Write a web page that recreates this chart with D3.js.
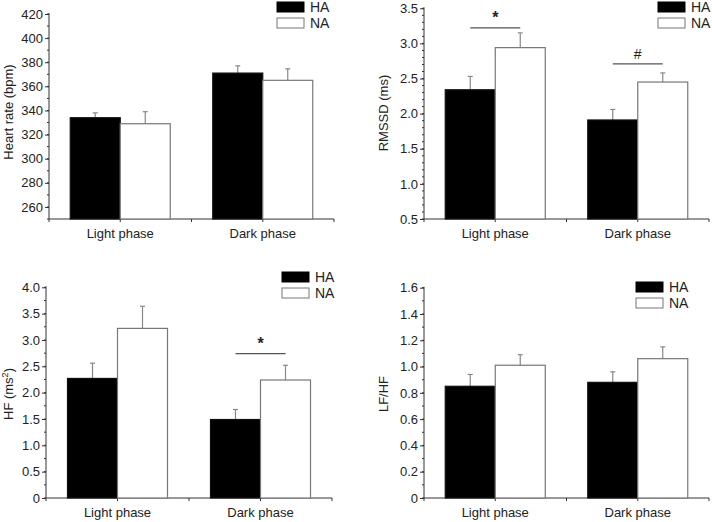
<!DOCTYPE html>
<html><head><meta charset="utf-8">
<script src="https://cdn.jsdelivr.net/npm/d3@7"></script>
<style>body{margin:0;background:#fff}svg{display:block}text{font-family:"Liberation Sans",Arial,sans-serif}</style>
</head><body>
<svg id="c" width="712" height="522"></svg>
<script>
const categories = ["Light phase", "Dark phase"];
const groups = ["HA", "NA"];

const hrHA = [334, 371], hrHAse = [4, 6];
const hrNA = [329, 365], hrNAse = [10, 9.5];
const rmssdHA = [2.34, 1.91], rmssdHAse = [0.19, 0.15];
const rmssdNA = [2.94, 2.45], rmssdNAse = [0.21, 0.13];
const hfHA = [2.27, 1.49], hfHAse = [0.29, 0.19];
const hfNA = [3.22, 2.24], hfNAse = [0.42, 0.28];
const lfhfHA = [0.85, 0.88], lfhfHAse = [0.09, 0.08];
const lfhfNA = [1.01, 1.06], lfhfNAse = [0.08, 0.09];

const hrTicks = [260, 280, 300, 320, 340, 360, 380, 400, 420];
const rmssdTicks = [0.5, 1.0, 1.5, 2.0, 2.5, 3.0, 3.5];
const hfTicks = [0, 0.5, 1.0, 1.5, 2.0, 2.5, 3.0, 3.5, 4.0];
const lfhfTicks = [0, 0.2, 0.4, 0.6, 0.8, 1.0, 1.2, 1.4, 1.6];

const svg = d3.select("#c");
const axisCol = "#333", txtCol = "#222", errCol = "#888";

function panel(cfg) {
  const g = svg.append("g");
  const x = d3.scaleBand().domain(categories).range([cfg.x0, cfg.x1]);
  const y = d3.scaleLinear().domain(cfg.domain).range([cfg.yb, cfg.yt]);
  const barW = 50;
  const xs = d3.scaleBand().domain(groups).range([0, 2 * barW]);

  // minor ticks
  const minor = d3.range(cfg.domain[0], cfg.domain[1] + 1e-9, cfg.minor)
    .map(v => +v.toFixed(4)).filter(v => v >= cfg.ticks[0] - 1e-9 || true);
  g.selectAll(".mn").data(minor).join("line")
    .attr("x1", cfg.x0 - 2).attr("x2", cfg.x0)
    .attr("y1", d => y(d)).attr("y2", d => y(d))
    .attr("stroke", axisCol).attr("stroke-width", 1);

  const ya = d3.axisLeft(y).tickValues(cfg.ticks).tickSize(4).tickPadding(2)
    .tickFormat(cfg.fmt);
  const yg = g.append("g").attr("transform", `translate(${cfg.x0},0)`).call(ya);
  yg.select(".domain").attr("d", `M-0,${cfg.yb}V${cfg.yt - 1}`).attr("stroke", axisCol);
  yg.selectAll(".tick line").attr("stroke", axisCol);
  yg.selectAll("text").attr("font-size", 13).attr("fill", txtCol);

  // x axis
  g.append("line").attr("x1", cfg.x0).attr("x2", cfg.x1)
    .attr("y1", cfg.yb).attr("y2", cfg.yb).attr("stroke", axisCol);
  const xt = [cfg.x0, ...categories.map(c => x(c) + x.bandwidth() / 2), ...categories.slice(1).map(c => x(c)), cfg.x1];
  g.selectAll(".xt").data(xt).join("line")
    .attr("x1", d => d).attr("x2", d => d)
    .attr("y1", cfg.yb).attr("y2", cfg.yb + 3).attr("stroke", axisCol);
  g.selectAll(".xl").data(categories).join("text")
    .attr("x", d => x(d) + x.bandwidth() / 2).attr("y", cfg.yb + 19)
    .attr("text-anchor", "middle").attr("font-size", 13).attr("fill", txtCol)
    .text(d => d);

  const series = [
    { key: "HA", v: cfg.ha, se: cfg.hase },
    { key: "NA", v: cfg.na, se: cfg.nase }
  ];
  series.forEach(s => {
    const bx = (c) => x(c) + x.bandwidth() / 2 - barW + xs(s.key);
    // error bars
    g.selectAll(null).data(categories).join("g").each(function (c, i) {
      const cx = bx(c) + barW / 2;
      const sel = d3.select(this);
      sel.append("line").attr("x1", cx).attr("x2", cx)
        .attr("y1", y(s.v[i])).attr("y2", y(s.v[i] + s.se[i]))
        .attr("stroke", errCol).attr("stroke-width", 1.2);
      sel.append("line").attr("x1", cx - 2.5).attr("x2", cx + 2.5)
        .attr("y1", y(s.v[i] + s.se[i])).attr("y2", y(s.v[i] + s.se[i]))
        .attr("stroke", errCol).attr("stroke-width", 1.2);
    });
    g.selectAll(null).data(categories).join("rect")
      .attr("x", c => bx(c)).attr("width", barW)
      .attr("y", (c, i) => y(s.v[i])).attr("height", (c, i) => cfg.yb - y(s.v[i]))
      .attr("fill", s.key === "HA" ? "#000" : "#fff")
      .attr("stroke", s.key === "HA" ? "#111" : "#777").attr("stroke-width", 1.2);
  });

  // significance
  (cfg.sig || []).forEach(sg => {
    const i = categories.indexOf(sg.cat);
    const c = categories[i];
    const xa = x(c) + x.bandwidth() / 2 - barW / 2;
    const xb = x(c) + x.bandwidth() / 2 + barW / 2;
    const ly = y(sg.level);
    g.append("line").attr("x1", xa).attr("x2", xb).attr("y1", ly).attr("y2", ly)
      .attr("stroke", "#555").attr("stroke-width", 1.2);
    g.append("text").attr("x", (xa + xb) / 2).attr("y", ly - 5)
      .attr("text-anchor", "middle").attr("font-size", sg.mark === "*" ? 16 : 14)
      .attr("font-weight", sg.mark === "*" ? "bold" : "normal")
      .attr("fill", "#222").text(sg.mark);
  });

  // legend
  groups.forEach((k, j) => {
    const ly = cfg.ly + j * 16;
    g.append("rect").attr("x", cfg.lx).attr("y", ly).attr("width", 27).attr("height", 10)
      .attr("fill", k === "HA" ? "#000" : "#fff").attr("stroke", k === "HA" ? "#000" : "#777");
    g.append("text").attr("x", cfg.lx + 33).attr("y", ly + 10)
      .attr("font-size", 14).attr("fill", txtCol).text(k);
  });

  // y label
  const yl = g.append("text").attr("transform", `translate(${cfg.labx},${cfg.laby}) rotate(-90)`)
    .attr("text-anchor", "middle").attr("font-size", 13).attr("fill", txtCol);
  if (cfg.label === "HF") {
    yl.text("HF (ms");
    yl.append("tspan").attr("font-size", 9).attr("dy", -5).text("2");
    yl.append("tspan").attr("dy", 5).text(")");
  } else yl.text(cfg.label);
}

panel({ x0: 49, x1: 334, yb: 219, yt: 14, domain: [250, 420], ticks: hrTicks, minor: 10,
  fmt: d3.format("d"), ha: hrHA, hase: hrHAse, na: hrNA, nase: hrNAse,
  lx: 277, ly: 2, labx: 13, laby: 112, label: "Heart rate (bpm)" });
panel({ x0: 424, x1: 709, yb: 219, yt: 8.3, domain: [0.5, 3.5], ticks: rmssdTicks, minor: 0.1,
  fmt: d3.format(".1f"), ha: rmssdHA, hase: rmssdHAse, na: rmssdNA, nase: rmssdNAse,
  lx: 658, ly: 2, labx: 388, laby: 113, label: "RMSSD (ms)",
  sig: [{ cat: "Light phase", level: 3.22, mark: "*" }, { cat: "Dark phase", level: 2.71, mark: "#" }] });
panel({ x0: 46, x1: 332, yb: 498, yt: 287.3, domain: [0, 4], ticks: hfTicks, minor: 0.25,
  fmt: d => d === 0 ? "0" : d3.format(".1f")(d), ha: hfHA, hase: hfHAse, na: hfNA, nase: hfNAse,
  lx: 282, ly: 272, labx: 13, laby: 394, label: "HF",
  sig: [{ cat: "Dark phase", level: 2.74, mark: "*" }] });
panel({ x0: 424, x1: 709, yb: 498, yt: 287.7, domain: [0, 1.6], ticks: lfhfTicks, minor: 0.1,
  fmt: d => d === 0 ? "0" : d3.format(".1f")(d), ha: lfhfHA, hase: lfhfHAse, na: lfhfNA, nase: lfhfNAse,
  lx: 636, ly: 282, labx: 388, laby: 394, label: "LF/HF" });
</script>
</body></html>
